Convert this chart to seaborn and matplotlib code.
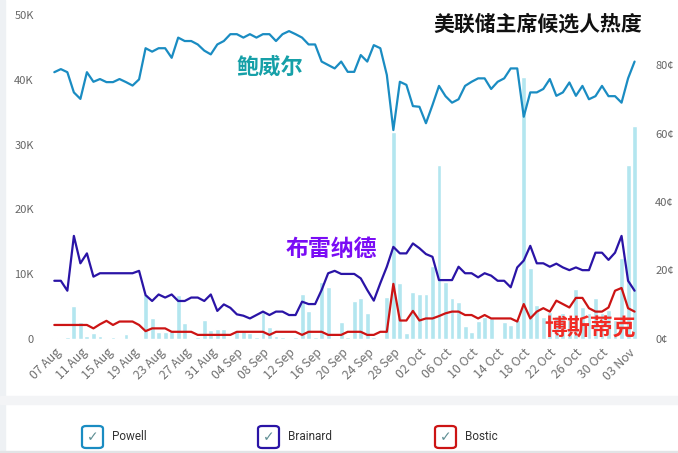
import numpy as np
import pandas as pd
import seaborn as sns
import matplotlib.pyplot as plt
from matplotlib.patches import FancyBboxPatch, Rectangle

# 日期 (2017-08-07 ~ 2017-11-04, 每日)
dates = pd.date_range('2017-08-07', periods=90)

# 鲍威尔 / 布雷纳德 / 博斯蒂克 价格 (美分)
powell = [77.9, 78.8, 77.9, 72.0, 70.1, 77.9, 75.1, 75.9, 75.0, 75.0,
          75.9, 75.0, 74.0, 75.8, 84.9, 83.9, 84.9, 84.9, 82.1, 88.0,
          87.0, 87.0, 86.0, 84.2, 83.1, 86.0, 87.0, 89.0, 89.0, 88.0,
          89.0, 88.0, 89.0, 89.0, 87.0, 89.0, 89.9, 89.0, 88.0, 86.0,
          86.0, 81.0, 80.0, 79.0, 81.0, 78.0, 78.0, 82.9, 81.0, 85.8,
          84.9, 77.1, 61.0, 75.1, 74.2, 68.0, 67.8, 63.0, 68.3, 73.9,
          70.9, 69.0, 70.0, 73.9, 75.1, 76.1, 76.1, 73.0, 75.1, 76.1,
          79.0, 79.0, 64.9, 72.0, 72.0, 73.0, 75.9, 71.0, 72.0, 74.9,
          71.0, 73.9, 70.0, 70.9, 73.9, 70.9, 70.9, 69.0, 76.1, 81.0]
brainard = [17.0, 17.0, 14.1, 30.1, 22.1, 25.0, 18.2, 19.2, 19.2, 19.2,
            19.2, 19.2, 19.2, 19.9, 12.8, 11.1, 13.0, 12.1, 13.0, 11.1,
            11.1, 12.1, 12.1, 11.1, 13.0, 8.2, 10.1, 9.1, 7.2, 6.8,
            6.0, 7.0, 8.0, 7.0, 8.0, 8.0, 7.0, 7.0, 10.9, 10.2,
            10.2, 14.3, 19.2, 19.9, 19.0, 19.0, 19.0, 17.7, 14.3, 11.2,
            16.3, 21.1, 26.9, 25.0, 25.0, 27.9, 26.5, 24.8, 24.0, 17.2,
            17.2, 17.2, 21.1, 19.2, 19.2, 18.0, 19.2, 18.5, 17.0, 17.0,
            15.1, 20.9, 22.9, 27.2, 22.1, 22.1, 21.1, 22.0, 20.9, 20.1,
            20.9, 20.1, 20.1, 25.2, 25.2, 23.1, 25.2, 30.1, 17.0, 14.1]
bostic = [4.1, 4.1, 4.1, 4.1, 4.1, 4.1, 3.1, 4.3, 5.3, 4.1,
          5.1, 5.1, 5.1, 4.1, 2.3, 3.1, 3.1, 3.1, 2.1, 2.1,
          2.1, 2.1, 1.2, 1.2, 1.2, 1.2, 1.2, 1.2, 2.1, 2.1,
          2.1, 2.1, 2.1, 1.2, 2.1, 2.1, 2.1, 2.1, 1.2, 2.1,
          2.1, 2.1, 1.2, 1.2, 1.2, 2.1, 2.1, 2.1, 1.2, 1.2,
          2.1, 2.1, 16.1, 5.4, 5.4, 8.2, 5.4, 6.0, 6.0, 6.7,
          7.5, 8.0, 8.0, 7.0, 7.0, 6.0, 7.0, 6.0, 6.0, 6.0,
          6.0, 5.1, 10.2, 6.0, 8.0, 9.0, 8.0, 11.2, 10.2, 9.2,
          12.0, 12.0, 9.0, 8.0, 8.0, 9.2, 14.1, 14.9, 9.0, 8.0]
# 成交量 (K)
volume = [0.2, 0.0, 0.3, 5.1, 2.7, 0.5, 0.9, 0.5, 0.2, 0.3,
          0.2, 0.8, 0.0, 0.2, 6.9, 3.3, 1.1, 1.1, 1.2, 6.8,
          2.4, 0.2, 0.3, 2.9, 1.4, 1.6, 1.5, 0.2, 1.4, 1.2,
          0.9, 0.3, 4.1, 1.9, 0.5, 0.3, 0.2, 0.3, 6.9, 4.3,
          0.3, 8.8, 8.0, 0.2, 2.7, 0.3, 5.8, 6.3, 4.0, 0.3,
          0.2, 6.5, 32.0, 8.6, 0.9, 7.3, 7.0, 7.0, 11.3, 26.9,
          8.8, 6.4, 5.7, 2.0, 1.1, 2.8, 3.4, 3.3, 0.2, 2.7,
          2.2, 3.0, 40.4, 11.0, 5.2, 3.4, 4.2, 3.5, 4.0, 3.0,
          7.7, 5.0, 4.0, 6.4, 4.0, 4.5, 3.0, 12.5, 26.9, 32.9]

df = pd.DataFrame({'day': np.arange(len(dates)),
                   'label': dates.strftime('%d %b'),
                   'Powell': powell, 'Brainard': brainard, 'Bostic': bostic,
                   'volume': np.array(volume) * 1000})

c_powell, c_brainard, c_bostic = '#1a8cc2', '#2a14a6', '#cc1414'

sns.set_style('white')
plt.rcParams['font.family'] = ['Noto Sans CJK SC', 'DejaVu Sans']

fig = plt.figure(figsize=(6.78, 4.53), dpi=100)
W, H = 678, 453
L, R = 50.4, 638.5
ax = fig.add_axes([L / W, 114 / H, (R - L) / W, 324 / H])

# 背景装饰
fig.patches.append(Rectangle((0, 0), 5 / W, 1, transform=fig.transFigure,
                             color='#eef1f4', zorder=-1))
fig.patches.append(Rectangle((0, 49 / H), 1, 8 / H, transform=fig.transFigure,
                             color='#f3f4f6', zorder=-1))
fig.patches.append(Rectangle((0, 0), 1, 2 / H, transform=fig.transFigure,
                             color='#e2e4e6', zorder=-1))

sns.barplot(data=df, x='day', y='volume', color='#b3e6ef', saturation=1,
            width=0.75, ax=ax)
ax.set_ylim(0, 50000)
ax.set_yticks([0, 10000, 20000, 30000, 40000, 50000])
ax.set_yticklabels(['0', '10K', '20K', '30K', '40K', '50K'])

ax2 = ax.twinx()
sns.lineplot(data=df, x='day', y='Powell', color=c_powell, lw=1.6, ax=ax2)
sns.lineplot(data=df, x='day', y='Brainard', color=c_brainard, lw=1.6, ax=ax2)
sns.lineplot(data=df, x='day', y='Bostic', color=c_bostic, lw=1.6, ax=ax2)
ax2.set_ylim(0, 324 / 3.425)
ax2.set_yticks([0, 20, 40, 60, 80])
ax2.set_yticklabels([f'{v}¢' for v in [0, 20, 40, 60, 80]])

ax.set_xlim(-0.6, 89.6)
ax.set_xticks(df['day'][::4])
ax.set_xticklabels(df['label'][::4], rotation=45, ha='right',
                   rotation_mode='anchor')

for a in (ax, ax2):
    a.set_xlabel('')
    a.set_ylabel('')
    for s in a.spines.values():
        s.set_visible(False)
    a.tick_params(length=0, labelsize=8, labelcolor='#666666')
ax.tick_params(axis='y', pad=12)
ax.tick_params(axis='x', pad=5, labelsize=8.8, labelcolor='#707070')
ax2.tick_params(axis='y', pad=12)

# 标题与标注
fig.text(538 / W, 1 - 24 / H, '美联储主席候选人热度', fontsize=15,
         fontweight='bold', color='#111111', ha='center', va='center')
fig.text(270 / W, 1 - 67 / H, '鲍威尔', fontsize=16, fontweight='bold',
         color='#16a0a8', ha='center', va='center')
fig.text(331 / W, 1 - 250 / H, '布雷纳德', fontsize=16.5, fontweight='bold',
         color='#7a0cf5', ha='center', va='center')
fig.text(590 / W, 1 - 329 / H, '博斯蒂克', fontsize=16.5, fontweight='bold',
         color='#f22a24', ha='center', va='center')

# 图例 (复选框样式)
for x0, name, col in [(82, 'Powell', c_powell), (258, 'Brainard', c_brainard),
                      (435, 'Bostic', c_bostic)]:
    box = FancyBboxPatch((x0 / W, 1 - 448 / H), 21 / W, 22 / H,
                         boxstyle='round,pad=0,rounding_size=0.006',
                         transform=fig.transFigure, fill=False,
                         edgecolor=col, lw=1.6)
    fig.patches.append(box)
    fig.text((x0 + 10.5) / W, 1 - 437 / H, '✓', fontsize=10, color='#5f8f94',
             ha='center', va='center', family='DejaVu Sans')
    fig.text((x0 + 30) / W, 1 - 437 / H, name, fontsize=8.5, color='#333333',
             ha='left', va='center', family='Roboto')

fig.savefig('out.png', dpi=100)
